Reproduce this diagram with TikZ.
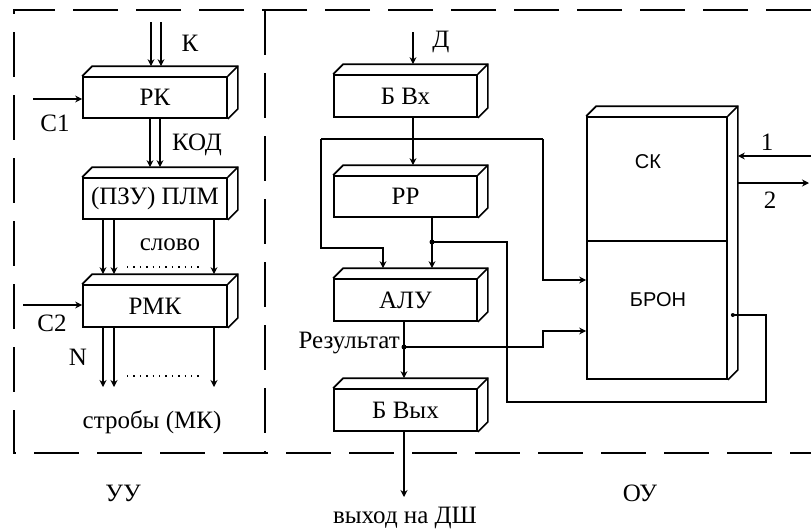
\documentclass[tikz,border=0pt]{standalone}
\usepackage{fontspec}
\setmainfont{Liberation Serif}
\newfontfamily\blkfont{Liberation Sans}
\usetikzlibrary{calc,arrows.meta}

% block with a 3D top and side face
\newcommand{\blok}[5]{%
    \node[blok, minimum width=#3, minimum height=#4] (#1) at #2 {#5};
    \draw[edge] (#1.north west) -- ++(\D,-\D) -| ($(#1.south east)+(\D,-\D)$) -- (#1.south east);
    \draw[edge] (#1.north east) -- ++(\D,-\D);
    \coordinate (#1-top) at ([yshift=\D pt]#1.north);
}

\begin{document}
\begin{tikzpicture}[x=1pt, y=-1pt,
    every node/.style={font=\fontsize{25}{28}\selectfont},
    blok/.style={draw, line width=1.7pt, inner sep=2pt},
    edge/.style={line width=1.7pt},
    arr/.style={line width=1.7pt, -{Stealth[length=7pt, width=7pt]}},
    frame/.style={line width=1.7pt, dash pattern=on 45pt off 18pt},
    dots/.style={line width=1.4pt, dash pattern=on 1.4pt off 5pt},
    sans/.style={font=\blkfont\fontsize{20}{24}\selectfont}]

    \def\D{10}

    \useasboundingbox (0,0) rectangle (811,528);

    % Frame
    \draw[frame] (811,10) -- (14,10) -- (14,453) -- (811,453);
    \draw[frame] (265,10) -- (265,453);

    % UU blocks
    \blok{rk}{(155,97.5)}{144}{41}{РК}
    \blok{plm}{(155,198.5)}{144}{41}{(ПЗУ) ПЛМ}
    \blok{rmk}{(155,306)}{144}{42}{РМК}

    % OU blocks
    \blok{bvx}{(405.5,96)}{143}{42}{Б Вх}
    \blok{rr}{(405.5,196.5)}{143}{41}{РР}
    \blok{alu}{(405.5,300)}{143}{42}{АЛУ}
    \blok{bvyx}{(405.5,410)}{143}{42}{Б Вых}

    % SK / BRON
    \node[blok, minimum width=140, minimum height=124] (sk) at (657,179) {};
    \node[blok, minimum width=140, minimum height=138] (bron) at (657,310) {};
    \draw[edge] (sk.north west) -- ++(\D,-\D) -| ($(bron.south east)+(\D,-\D)$) -- (bron.south east);
    \draw[edge] (sk.north east) -- ++(\D,-\D);
    \node[sans] (lsk) at (648,162) {СК};
    \node[sans] (lbron) at (658,300) {БРОН};
    \coordinate (sk-side) at ([xshift=\D pt]sk.east);
    \coordinate (bron-in1) at ([yshift=30pt]bron.west);
    \coordinate (bron-in2) at ([yshift=-21pt]bron.west);
    \coordinate (bron-out) at ([xshift=5pt, yshift=-5pt]bron.east);

    % free ends and bends
    \coordinate (k1) at (151,22);
    \coordinate (k2) at (161,22);
    \coordinate (c1) at (33,99);
    \coordinate (c2) at (23,305);
    \coordinate (strb) at (155,387);
    \coordinate (d) at (413,32);
    \coordinate (busL) at (321,139);
    \coordinate (busR) at (543,139);
    \coordinate (aluL) at (383,248);
    \coordinate (rrout) at (432,242);
    \coordinate (res) at (404,347);
    \coordinate (resR) at (543,347);
    \coordinate (fbR) at (766,402);
    \coordinate (fbL) at (507,402);
    \coordinate (out) at (404,497);
    \coordinate (p1) at (811,156);
    \coordinate (p2) at (809,183);

    % UU connectors
    \foreach \c in {k1,k2}
        \draw[arr] (\c) -- (\c |- rk-top);
    \draw[arr] (c1) -- (c1 -| rk.west);
    \foreach \dx in {-5,5}
        \draw[arr] ([xshift=\dx pt]rk.south) -- ([xshift=\dx pt]plm-top);
    \foreach \dx in {-52,-41,59} {
        \draw[arr] ([xshift=\dx pt]plm.south) -- ([xshift=\dx pt]rmk-top);
        \draw[arr] ([xshift=\dx pt]rmk.south) -- ([xshift=\dx pt]strb);
    }
    \draw[arr] (c2) -- (c2 -| rmk.west);
    \draw[dots] (127,267) -- (202,267);
    \draw[dots] (127,376) -- (202,376);

    % OU connectors
    \draw[arr] (d) -- (d |- bvx-top);
    \draw[arr] (d |- bvx.south) -- (d |- rr-top);
    \draw[edge] (busL) -- (busR);
    \draw[arr] (busL) |- (aluL) -- (aluL |- alu-top);
    \draw[arr] (busR) |- (bron-in1);
    \draw[arr] (rrout |- rr.south) -- (rrout |- alu-top);
    \fill (rrout) circle (2.5pt);
    \draw[edge] (bron-out) -| (fbR) -- (fbL) |- (rrout);
    \fill (bron-out) circle (2pt);
    \draw[arr] (res |- alu.south) -- (res |- bvyx-top);
    \fill (res) circle (2.5pt);
    \draw[arr] (res) -- (resR) |- (bron-in2);
    \draw[arr] (out |- bvyx.south) -- (out);
    \draw[arr] (p1) -- (p1 -| sk-side);
    \draw[arr] (p2 -| sk-side) -- (p2);

    % Labels
    \node (lk) at (190,43) {К};
    \node (lc1) at (55,123) {C1};
    \node (lkod) at (197,145) {КОД};
    \node (lslovo) at (170,245) {слово};
    \node (lc2) at (52,323) {C2};
    \node (ln) at (78,357) {N};
    \node (lstrob) at (152,422) {стробы (МК)};
    \node (luu) at (123,493) {УУ};
    \node (ld) at (441,42) {Д};
    \node[anchor=east, inner sep=0pt] (lres) at (400,343) {Результат};
    \node (lout) at (405,518) {выход на ДШ};
    \node (lou) at (640,493) {ОУ};
    \node (l1) at (767,142) {1};
    \node (l2) at (770,200) {2};

\end{tikzpicture}
\end{document}
